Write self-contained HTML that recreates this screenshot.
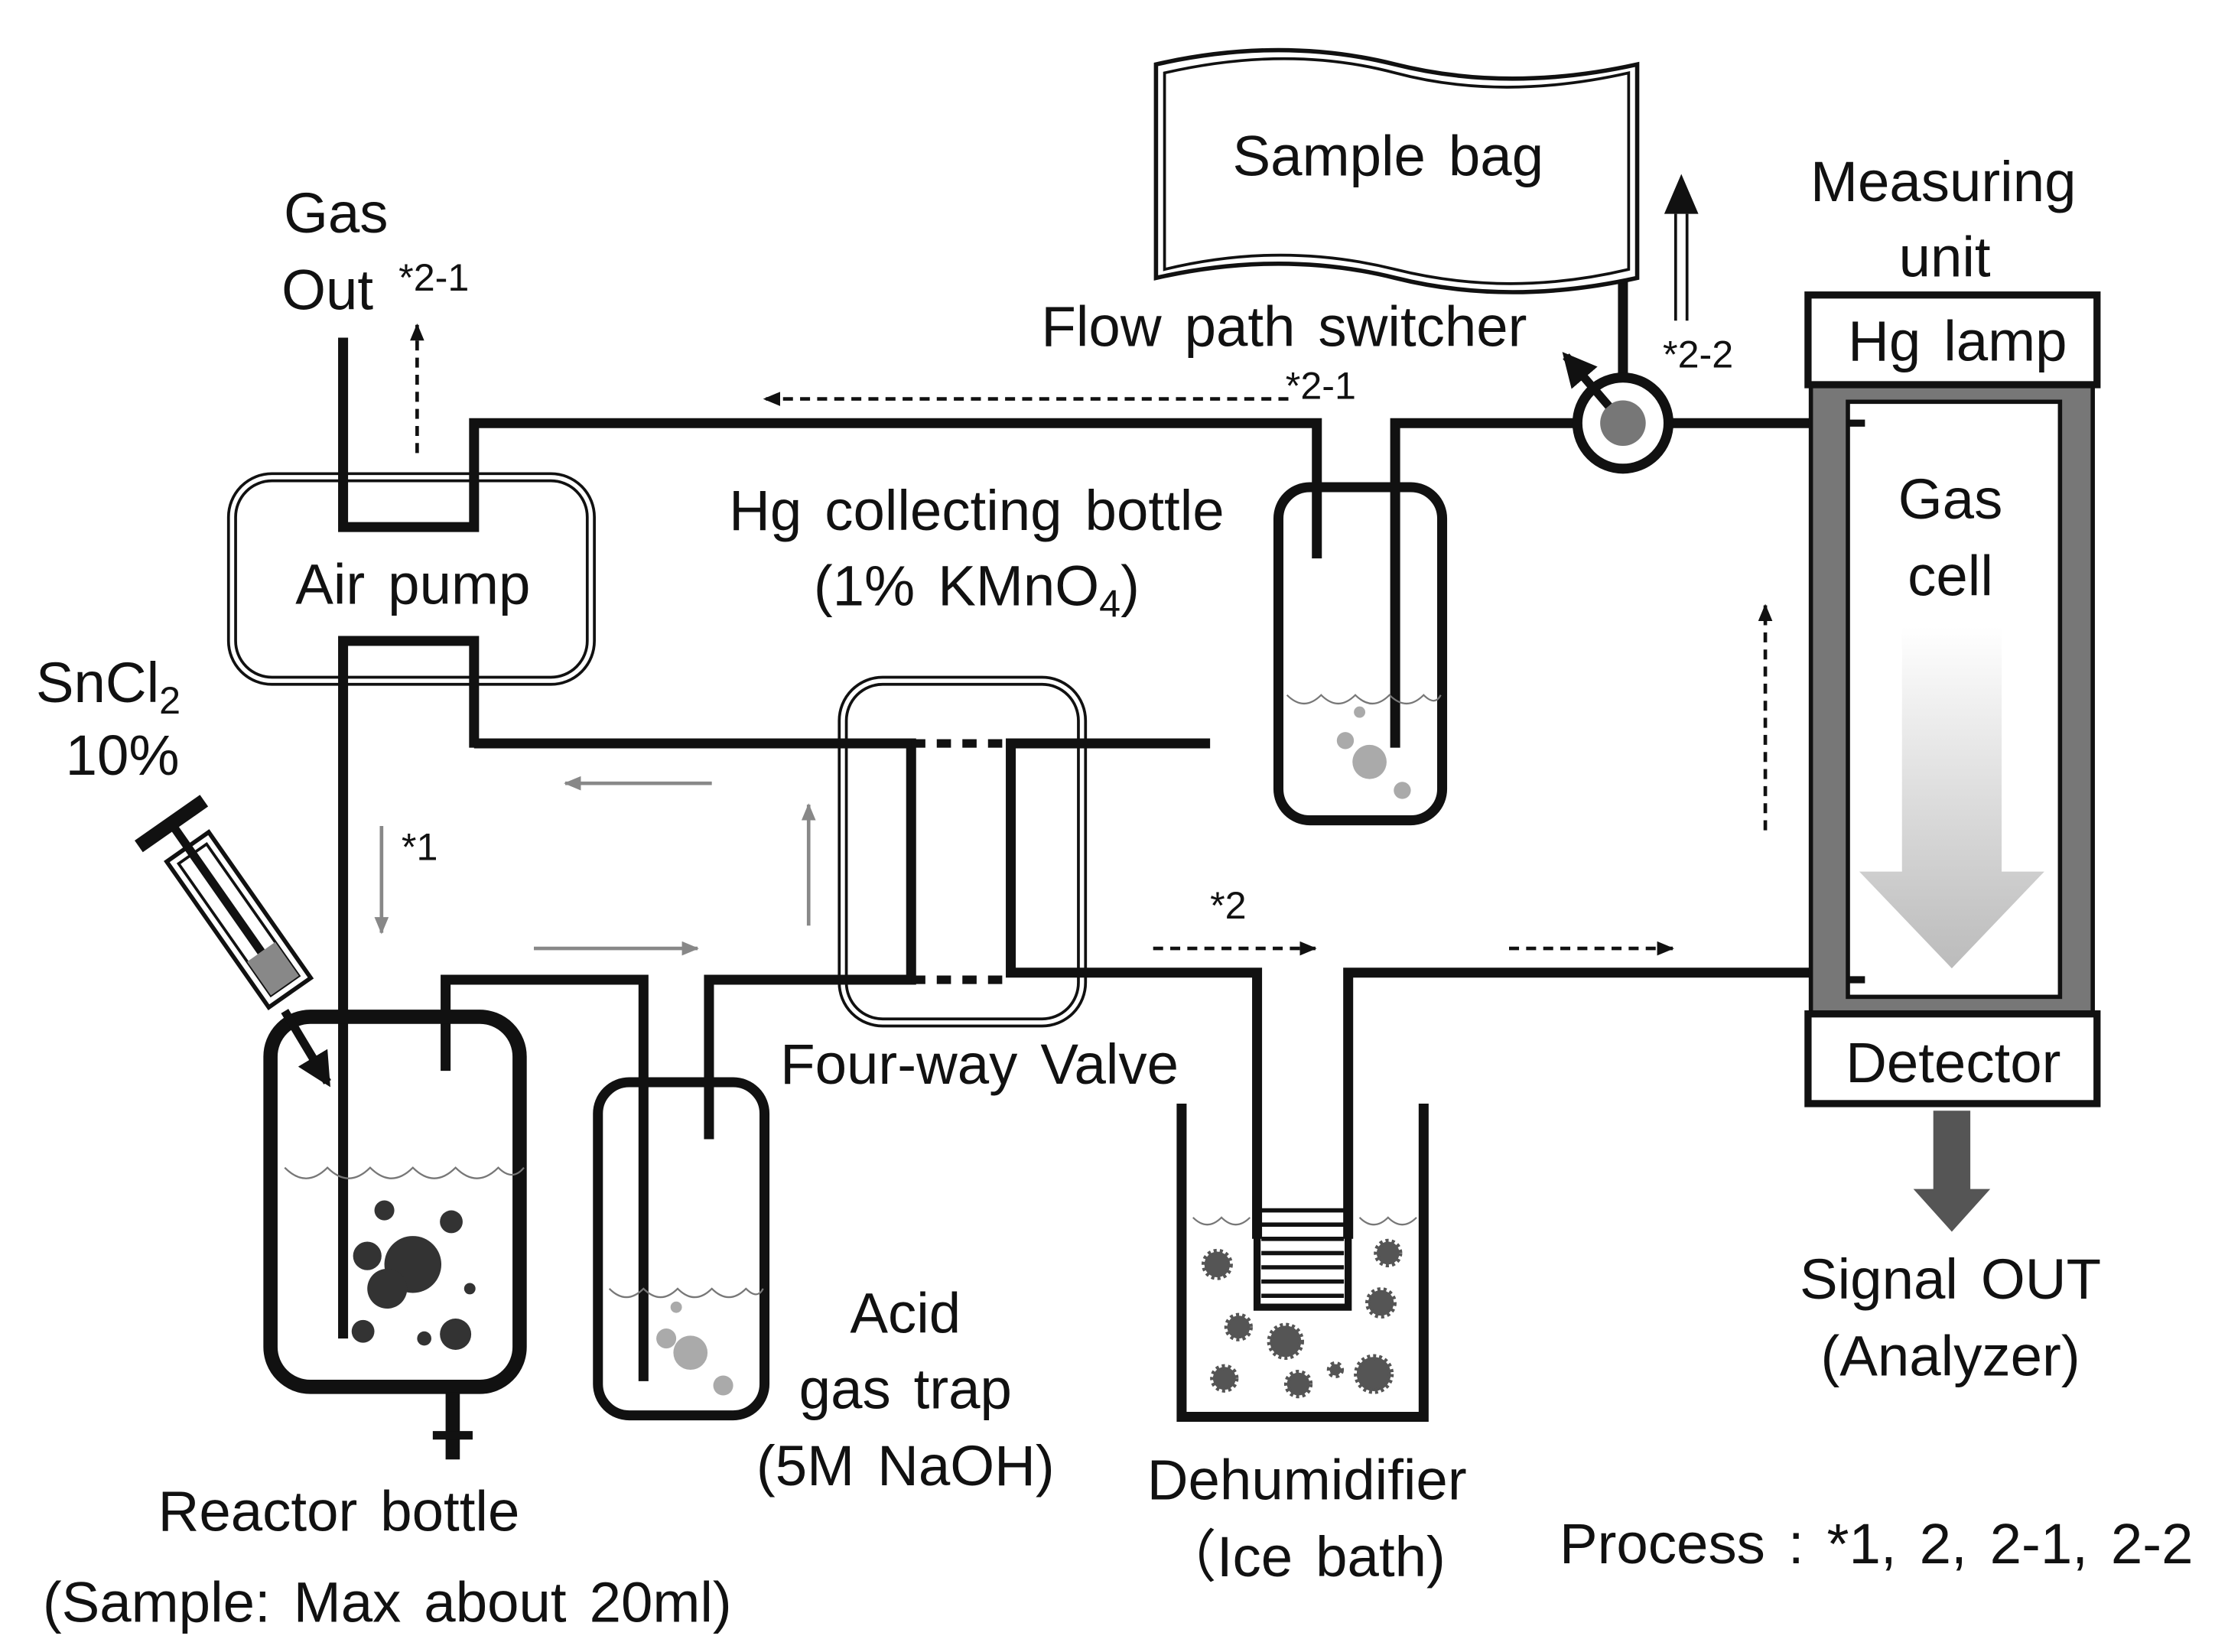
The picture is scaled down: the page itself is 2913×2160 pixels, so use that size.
<!DOCTYPE html>
<html><head><meta charset="utf-8"><style>
html,body{margin:0;padding:0;background:#fff;}
svg{display:block;}
text{font-family:"Liberation Sans",Arial,sans-serif;fill:#111;}
</style></head><body>
<svg width="2913" height="2160" viewBox="0 0 1565 1160" xmlns="http://www.w3.org/2000/svg">
<defs>
<linearGradient id="g" x1="0" y1="0" x2="0" y2="1"><stop offset="0" stop-color="#fff"/><stop offset="1" stop-color="#bbb"/></linearGradient>
<marker id="ak" markerWidth="12" markerHeight="10" refX="11" refY="5" orient="auto" markerUnits="userSpaceOnUse"><path d="M0,0 L12,5 L0,10z" fill="#111"/></marker>
<marker id="ag" markerWidth="12" markerHeight="10" refX="11" refY="5" orient="auto" markerUnits="userSpaceOnUse"><path d="M0,0 L12,5 L0,10z" fill="#888"/></marker>
<marker id="ab" markerWidth="24" markerHeight="24" refX="20" refY="12" orient="auto" markerUnits="userSpaceOnUse"><path d="M0,0 L24,12 L0,24z" fill="#111"/></marker>
</defs>
<g fill="none" stroke="#111" stroke-width="7" stroke-linejoin="miter">
<rect x="163" y="335" width="252" height="143" rx="28" stroke-width="7"/>
<rect x="163" y="335" width="252" height="143" rx="28" stroke="#fff" stroke-width="3"/>
<rect x="592" y="478" width="168" height="240" rx="28" stroke-width="7"/>
<rect x="592" y="478" width="168" height="240" rx="28" stroke="#fff" stroke-width="3"/>
<polyline points="241,237 241,370 333,370 333,297 925,297 925,392"/>
<polyline points="333,525 333,450 241,450 241,940"/>
<polyline points="333,522 640,522 640,688 498,688 498,800"/>
<polyline points="850,522 710,522 710,683 883,683 883,870"/>
<polyline points="947,870 947,683 1272,683"/>
<polyline points="313,752 313,688 452,688 452,970"/>
<polyline points="980,525 980,297 1108,297"/>
<line x1="1172" y1="297" x2="1272" y2="297"/>
<line x1="1140" y1="268" x2="1140" y2="178"/>
<rect x="190" y="714" width="175" height="260" rx="28" stroke-width="10"/>
<line x1="318" y1="978" x2="318" y2="1025" stroke-width="10"/>
<line x1="304" y1="1008" x2="332" y2="1008" stroke-width="6"/>
<rect x="420" y="760" width="117" height="234" rx="22" stroke-width="7"/>
<rect x="898" y="342" width="115" height="234" rx="22" stroke-width="7"/>
<polyline points="830,775 830,995 1000,995 1000,775"/>
<polyline points="883,840 883,918 947,918 947,840" stroke-width="5"/>
</g>
<g stroke="#111" stroke-width="6" stroke-dasharray="10,8">
<line x1="640" y1="522" x2="710" y2="522"/><line x1="640" y1="688" x2="710" y2="688"/>
</g>
<g stroke="#111" stroke-width="3">
<line x1="886" y1="850" x2="944" y2="850"/><line x1="886" y1="860" x2="944" y2="860"/><line x1="886" y1="870" x2="944" y2="870"/><line x1="886" y1="880" x2="944" y2="880"/><line x1="886" y1="890" x2="944" y2="890"/><line x1="886" y1="900" x2="944" y2="900"/><line x1="886" y1="910" x2="944" y2="910"/>
</g>
<g fill="none" stroke="#777" stroke-width="1.2">
<path d="M200,820 q15,15 30,0 q15,15 30,0 q15,15 30,0 q15,15 30,0 q15,15 30,0 q10,10 18,0"/>
<path d="M428,905 q12,12 24,0 q12,12 24,0 q12,12 24,0 q12,12 24,0 q8,8 12,0"/>
<path d="M904,488 q12,12 24,0 q12,12 24,0 q12,12 24,0 q12,12 24,0 q8,8 12,0"/>
<path d="M838,855 q10,10 20,0 q10,10 20,0 M955,855 q10,10 20,0 q10,10 20,0"/>
</g>
<g fill="#333">
<circle cx="290" cy="888" r="20"/><circle cx="272" cy="905" r="14"/><circle cx="258" cy="882" r="10"/><circle cx="320" cy="937" r="11"/><circle cx="270" cy="850" r="7"/><circle cx="317" cy="858" r="8"/><circle cx="255" cy="935" r="8"/><circle cx="298" cy="940" r="5"/><circle cx="330" cy="905" r="4"/>
</g>
<g fill="#aaa">
<circle cx="485" cy="950" r="12"/><circle cx="468" cy="940" r="7"/><circle cx="508" cy="973" r="7"/><circle cx="475" cy="918" r="4"/>
<circle cx="962" cy="535" r="12"/><circle cx="945" cy="520" r="6"/><circle cx="985" cy="555" r="6"/><circle cx="955" cy="500" r="4"/>
</g>
<g fill="#555" stroke="#555" stroke-width="4" stroke-dasharray="2,2">
<circle cx="855" cy="888" r="9"/><circle cx="870" cy="932" r="8"/><circle cx="903" cy="942" r="11"/><circle cx="860" cy="968" r="8"/><circle cx="912" cy="972" r="8"/><circle cx="965" cy="965" r="12"/><circle cx="970" cy="915" r="9"/><circle cx="975" cy="880" r="8"/><circle cx="938" cy="962" r="4"/>
</g>
<circle cx="1140" cy="297" r="32" fill="#fff" stroke="#111" stroke-width="7"/>
<circle cx="1140" cy="297" r="16" fill="#777"/>
<line x1="1130" y1="285" x2="1100" y2="250" stroke="#111" stroke-width="6" marker-end="url(#ab)"/>
<path d="M812,45 Q900,25 980,45 T1150,45 L1150,195 Q1060,215 980,195 T812,195 Z" fill="#fff" stroke="#111" stroke-width="3"/>
<path d="M818,51 Q905,31 980,51 T1144,51 L1144,189 Q1060,209 980,189 T818,189 Z" fill="none" stroke="#111" stroke-width="2"/>
<line x1="1177" y1="225" x2="1177" y2="150" stroke="#111" stroke-width="2"/><line x1="1185" y1="225" x2="1185" y2="150" stroke="#111" stroke-width="2"/>
<path d="M1169,150 L1181,122 L1193,150z" fill="#111"/>
<rect x="1272" y="270" width="198" height="442" fill="#777"/>
<rect x="1298" y="282" width="149" height="418" fill="#fff" stroke="#111" stroke-width="3"/>
<rect x="1272" y="270" width="198" height="442" fill="none" stroke="#111" stroke-width="3"/>
<rect x="1270" y="207" width="203" height="63" fill="#fff" stroke="#111" stroke-width="5"/>
<rect x="1270" y="712" width="203" height="63" fill="#fff" stroke="#111" stroke-width="5"/>
<line x1="1298" y1="297" x2="1310" y2="297" stroke="#111" stroke-width="5"/>
<line x1="1298" y1="688" x2="1310" y2="688" stroke="#111" stroke-width="5"/>
<path d="M1336,440 L1406,440 L1406,612 L1436,612 L1371,680 L1306,612 L1336,612 Z" fill="url(#g)"/>
<path d="M1358,780 L1384,780 L1384,835 L1398,835 L1371,865 L1344,835 L1358,835Z" fill="#555"/>
<g transform="translate(172,652) rotate(-35)">
<rect x="-18" y="-70" width="36" height="125" fill="#fff" stroke="#111" stroke-width="3"/>
<rect x="-12" y="-64" width="24" height="113" fill="none" stroke="#111" stroke-width="2"/>
<rect x="-12" y="20" width="24" height="29" fill="#888"/>
<line x1="0" y1="-90" x2="0" y2="20" stroke="#111" stroke-width="6"/>
<line x1="-28" y1="-90" x2="28" y2="-90" stroke="#111" stroke-width="10"/>
</g>
<line x1="200" y1="710" x2="230" y2="760" stroke="#111" stroke-width="6" marker-end="url(#ab)"/>
<g stroke="#111" stroke-width="2.5" stroke-dasharray="7,5" marker-end="url(#ak)">
<line x1="293" y1="318" x2="293" y2="228"/>
<line x1="905" y1="280" x2="537" y2="280"/>
<line x1="1240" y1="583" x2="1240" y2="425"/>
<line x1="1060" y1="666" x2="1175" y2="666"/>
<line x1="810" y1="666" x2="924" y2="666"/>
</g>
<g stroke="#888" stroke-width="2.5" marker-end="url(#ag)">
<line x1="500" y1="550" x2="397" y2="550"/>
<line x1="568" y1="650" x2="568" y2="565"/>
<line x1="375" y1="666" x2="490" y2="666"/>
<line x1="268" y1="580" x2="268" y2="655"/>
</g>
<g font-size="40" text-anchor="middle" word-spacing="5">
<text x="236" y="163">Gas</text>
<text x="230" y="217">Out</text>
<text x="290" y="424">Air pump</text>
<text x="975" y="123">Sample  bag</text>
<text x="1365" y="141">Measuring</text>
<text x="1366" y="194">unit</text>
<text x="1375" y="253">Hg lamp</text>
<text x="1370" y="364">Gas</text>
<text x="1370" y="418">cell</text>
<text x="1372" y="760">Detector</text>
<text x="1370" y="912">Signal OUT</text>
<text x="1370" y="966">(Analyzer)</text>
<text x="902" y="243">Flow  path  switcher</text>
<text x="686" y="372">Hg collecting  bottle</text>
<text x="686" y="425">(1% KMnO<tspan font-size="27" dy="8">4</tspan><tspan dy="-8">)</tspan></text>
<text x="76" y="493">SnCl<tspan font-size="27" dy="8">2</tspan></text>
<text x="86" y="544">10%</text>
<text x="688" y="761">Four-way  Valve</text>
<text x="636" y="936">Acid</text>
<text x="636" y="989">gas trap</text>
<text x="636" y="1043">(5M NaOH)</text>
<text x="238" y="1075">Reactor bottle</text>
<text x="272" y="1139">(Sample:  Max about  20ml)</text>
<text x="918" y="1053">Dehumidifier</text>
<text x="915" y="1107">（Ice bath)</text>
<text x="1318" y="1098">Process : *1, 2, 2-1, 2-2</text>
</g>
<g font-size="27">
<text x="280" y="204">*2-1</text>
<text x="903" y="280">*2-1</text>
<text x="1168" y="258">*2-2</text>
<text x="850" y="645">*2</text>
<text x="282" y="604">*1</text>
</g>
</svg>
</body></html>
